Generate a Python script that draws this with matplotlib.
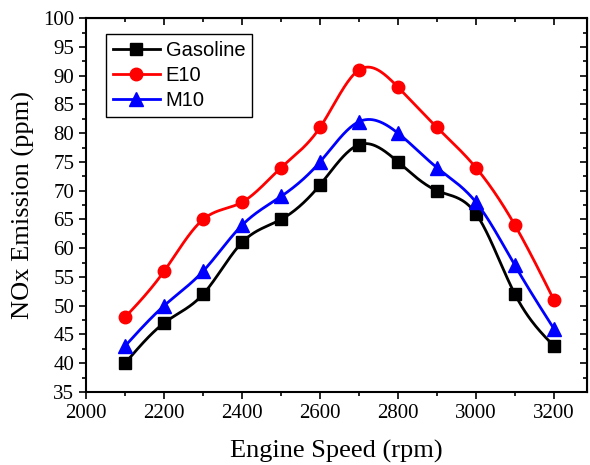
import numpy as np
import matplotlib
matplotlib.use("Agg")
import matplotlib.pyplot as plt
from matplotlib.ticker import MultipleLocator

# data
speed = [2100, 2200, 2300, 2400, 2500, 2600, 2700, 2800, 2900, 3000, 3100, 3200]
gasoline = [40, 47, 52, 61, 65, 71, 78, 75, 70, 66, 52, 43]
e10 = [48, 56, 65, 68, 74, 81, 91, 88, 81, 74, 64, 51]
m10 = [43, 50, 56, 64, 69, 75, 82, 80, 74, 68, 57, 46]


# natural cubic spline for the smooth connecting line
def spline(x, y, n=400):
    x = np.asarray(x, float)
    y = np.asarray(y, float)
    k = len(x)
    h = np.diff(x)
    A = np.zeros((k, k))
    b = np.zeros(k)
    A[0, 0] = A[-1, -1] = 1
    for i in range(1, k - 1):
        A[i, i - 1] = h[i - 1]
        A[i, i] = 2 * (h[i - 1] + h[i])
        A[i, i + 1] = h[i]
        b[i] = 6 * ((y[i + 1] - y[i]) / h[i] - (y[i] - y[i - 1]) / h[i - 1])
    M = np.linalg.solve(A, b)
    xs = np.linspace(x[0], x[-1], n)
    idx = np.clip(np.searchsorted(x, xs) - 1, 0, k - 2)
    x0, x1 = x[idx], x[idx + 1]
    hh = x1 - x0
    t0, t1 = x1 - xs, xs - x0
    ys = (M[idx] * t0**3 + M[idx + 1] * t1**3) / (6 * hh) \
        + (y[idx] / hh - M[idx] * hh / 6) * t0 \
        + (y[idx + 1] / hh - M[idx + 1] * hh / 6) * t1
    return xs, ys


plt.rcParams['font.family'] = ['Liberation Serif']
fig = plt.figure(figsize=(5.9, 4.65), dpi=100)
ax = fig.add_axes([0.146, 0.157, 0.849, 0.804])

series = [
    ("Gasoline", gasoline, "black", "s", 8),
    ("E10", e10, "red", "o", 9),
    ("M10", m10, "blue", "^", 9.5),
]
for name, vals, col, mk, ms in series:
    xs, ys = spline(speed, vals)
    ax.plot(xs, ys, color=col, lw=2)
    ax.plot(speed, vals, ls="none", marker=mk, ms=ms, color=col)
    # proxy for legend
    ax.plot([], [], color=col, lw=2, marker=mk, ms=ms, label=name)

ax.set_xlim(2000, 3285)
ax.set_ylim(35, 100)
ax.xaxis.set_major_locator(MultipleLocator(200))
ax.xaxis.set_minor_locator(MultipleLocator(100))
ax.yaxis.set_major_locator(MultipleLocator(5))
ax.yaxis.set_minor_locator(MultipleLocator(2.5))
ax.tick_params(which="both", labelsize=15, direction="out", width=1.2)
ax.tick_params(which="major", length=5)
ax.tick_params(which="minor", length=3)
for s in ax.spines.values():
    s.set_linewidth(1.5)

# inward ticks on top and right
top = ax.secondary_xaxis("top")
top.xaxis.set_major_locator(MultipleLocator(200))
top.xaxis.set_minor_locator(MultipleLocator(100))
top.tick_params(which="both", direction="in", labeltop=False, width=1.2)
top.tick_params(which="major", length=5)
top.tick_params(which="minor", length=3)
right = ax.secondary_yaxis("right")
right.yaxis.set_major_locator(MultipleLocator(5))
right.yaxis.set_minor_locator(MultipleLocator(2.5))
right.tick_params(which="both", direction="in", labelright=False, width=1.2)
right.tick_params(which="major", length=5)
right.tick_params(which="minor", length=3)

ax.set_xlabel("Engine Speed (rpm)", fontsize=19, labelpad=12)
ax.set_ylabel("NOx Emission (ppm)", fontsize=19, labelpad=6)

leg = ax.legend(loc="upper left", bbox_to_anchor=(0.02, 0.985), fancybox=False,
                edgecolor="black", framealpha=1, handlelength=2.3,
                prop={"family": "Liberation Sans", "size": 14.5},
                borderpad=0.35, labelspacing=0.3, handletextpad=0.3)
leg.get_frame().set_linewidth(1.0)

fig.savefig("out.png", dpi=100)
